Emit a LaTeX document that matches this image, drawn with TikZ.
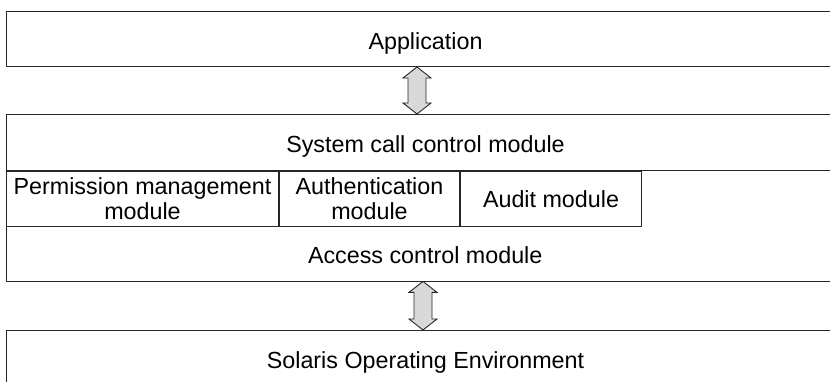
\documentclass[tikz,border=0pt]{standalone}
\usepackage{fontspec}
\setmainfont{Liberation Sans}
\usetikzlibrary{calc}

% vertical two-headed block arrow between two points on the same vertical
\newcommand\layerlink[2]{%
  \draw[updown] let \p1=(#1), \p2=(#2) in
    (\x1,\y1) -- (\x1+14pt,\y1-11pt) -- (\x1+9pt,\y1-11pt)
    -- (\x1+9pt,\y2+11pt) -- (\x1+14pt,\y2+11pt) -- (\x1,\y2)
    -- (\x1-14pt,\y2+11pt) -- (\x1-9pt,\y2+11pt)
    -- (\x1-9pt,\y1-11pt) -- (\x1-14pt,\y1-11pt) -- cycle;}

\begin{document}
\begin{tikzpicture}[x=1pt,y=-1pt,
  txt/.style={font=\fontsize{23.3}{25}\selectfont},
  oneline/.style={txt, text height=20pt, text depth=0pt},
  layer/.style={oneline, draw=black!85, line width=1pt, minimum width=838pt,
    minimum height=55pt, inner sep=0pt, anchor=north west},
  plain/.style={oneline, minimum width=838pt, minimum height=56pt,
    inner sep=0pt, anchor=north west},
  cell/.style={txt, draw=black!85, line width=1pt, minimum height=55pt,
    inner sep=0pt, anchor=north west, align=center},
  frame/.style={draw=black!85, line width=1pt},
  updown/.style={draw=black!85, line width=0.9pt, fill=black!15, line join=miter}]

\useasboundingbox (0,0) rectangle (830,381);
\clip (0,0) rectangle (830,381);

% layers
\node[layer] (app) at (6,11) {Application};
\node[layer, minimum height=56pt] (syscall) at (6,114) {System call control module};
\node[cell, minimum width=272pt] (perm) at (syscall.south west) {Permission management\\module};
\node[cell, minimum width=180pt] (auth) at (perm.north east) {Authentication\\module};
\node[cell, minimum width=181pt] (audit) at (auth.north east) {Audit module};
\node[plain] (access) at (6,225) {Access control module};
\draw[frame] (syscall.north west) rectangle (access.south east);
\node[layer] (solaris) at (6,330) {Solaris Operating Environment};

% links between layers
\coordinate (upperx) at (417,0);
\coordinate (lowerx) at (423,0);
\layerlink{app.south -| upperx}{syscall.north -| upperx}
\layerlink{access.south -| lowerx}{solaris.north -| lowerx}
\end{tikzpicture}
\end{document}
